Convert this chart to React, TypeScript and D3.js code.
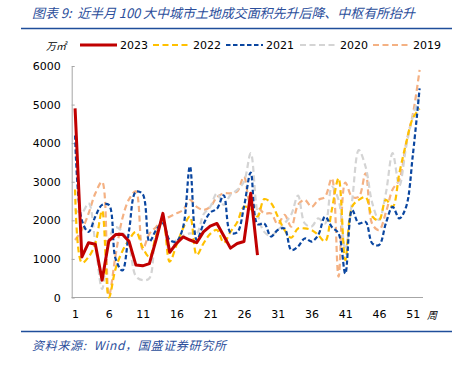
import { useEffect, useRef } from "react";
import * as d3 from "d3";

// weekly land transaction area, 万㎡, weeks 1..52
const weeks = d3.range(1, 53);
const tickWeeks = [1, 6, 11, 16, 21, 26, 31, 36, 41, 46, 51];
const yTicks = [0, 1000, 2000, 3000, 4000, 5000, 6000];

const v2023 = [
  4900, 1050, 1420, 1380, 450, 1470, 1630, 1640, 1450, 840, 820, 880, 1500, 2180,
  1170, 1400, 1570, 1490, 1420, 1700, 1850, 1920, 1600, 1280, 1400, 1450, 2700, 1100,
];
const v2022 = [
  2800, 900, 1050, 1400, 2250, 0, 750, 1200, 1500, 1700, 1300, 1050, 1600, 2000,
  930, 1350, 1800, 2100, 1100, 1400, 1650, 1750, 1420, 1700, 1950, 2350, 2300, 2100,
  2550, 2450, 2100, 1750, 1550, 1790, 1790, 1750, 1620, 1450, 2270, 3090, 970, 2350,
  2530, 2600, 2100, 2000, 2530, 2350, 3220, 4000, 4650, 4900,
];
const v2021 = [
  4200, 2000, 1700, 2100, 2400, 2400, 1000, 700, 1750, 2740, 2680, 1450, 1750, 1920,
  1490, 1450, 1830, 3400, 1490, 1900, 2200, 2300, 2650, 1680, 1690, 2350, 3240, 1900,
  1920, 1580, 1750, 1790, 1230, 1320, 1530, 1450, 1620, 2095, 1830, 1660, 620, 2270,
  1920, 1960, 1400, 1360, 1920, 2350, 2050, 2350, 3700, 5420,
];
const v2020 = [
  2270, 2200, 2440, 1400, 220, 1500, 1820, 1700, 1350, 550, 450, 500, 1700, 1960,
  1150, 1490, 1600, 1660, 1660, 2150, 2350, 2700, 2400, 2660, 2790, 3000, 3740, 2200,
  1700, 1600, 1750, 1920, 2150, 2640, 1920, 1840, 2050, 1920, 2870, 2530, 1250, 2500,
  3820, 3390, 2440, 2010, 2700, 3740, 2900, 3900, 4700, 5250,
];
const v2019 = [
  1490, 1750, 2180, 2700, 3000, 50, 1100, 2050, 2550, 2750, 1250, 1650, 1830, 2010,
  2095, 2180, 2270, 2530, 2350, 2270, 2350, 2600, 2700, 2700, 2750, 3130, 2400, 2350,
  2180, 2180, 1900, 2140, 1835, 2400, 2530, 2350, 2530, 2610, 3090, 540, 2980, 2610,
  2610, 3220, 1900, 1750, 2200, 2800, 3050, 4000, 4750, 5900,
];

interface Series {
  name: string;
  values: number[];
  color: string;
  width: number;
  dash: string | null;
  smooth: boolean;
}

const series: Series[] = [
  { name: "2023", values: v2023, color: "#C00000", width: 3, dash: null, smooth: false },
  { name: "2022", values: v2022, color: "#FFC000", width: 2.2, dash: "6,3.5", smooth: true },
  { name: "2021", values: v2021, color: "#0A46A0", width: 2.2, dash: "4.5,2.5", smooth: true },
  { name: "2020", values: v2020, color: "#D4D4D4", width: 2.2, dash: "6,3.5", smooth: true },
  { name: "2019", values: v2019, color: "#F4B183", width: 2.2, dash: "6,3.5", smooth: true },
];
// drawing order, last on top
const drawOrder = ["2019", "2020", "2022", "2021", "2023"];

const W = 461;
const H = 370;
const FONT = "'DejaVu Sans', Verdana, sans-serif";
const CJK = "'Noto Sans CJK SC', sans-serif";
const BLUE = "#2B4E9B";

export default function App() {
  const svgRef = useRef<SVGSVGElement>(null);

  useEffect(() => {
    if (!svgRef.current) return;
    const svg = d3.select(svgRef.current);
    svg.selectAll("*").remove();

    const left = 71.7;
    const right = 423;
    const top = 66;
    const bottom = 297.5;

    const x = d3.scalePoint<number>().domain(weeks).range([left, right]).padding(0.5);
    const y = d3.scaleLinear().domain([0, 6000]).range([bottom, top]);

    svg.append("rect").attr("width", W).attr("height", H).attr("fill", "#fff");

    // title + rule
    svg
      .append("text")
      .attr("x", 32)
      .attr("y", 18)
      .attr("fill", BLUE)
      .attr("font-family", CJK)
      .attr("font-style", "italic")
      .attr("font-size", "13px")
      .attr("textLength", 383)
      .attr("lengthAdjust", "spacing")
      .style("white-space", "pre")
      .text("图表 9:  近半月 100 大中城市土地成交面积先升后降、中枢有所抬升");
    svg
      .append("line")
      .attr("x1", 21)
      .attr("x2", 452)
      .attr("y1", 28.5)
      .attr("y2", 28.5)
      .attr("stroke", "#1F4E9A")
      .attr("stroke-width", 1.5);

    // unit
    svg
      .append("text")
      .attr("x", 66)
      .attr("y", 50)
      .attr("text-anchor", "end")
      .attr("font-family", CJK)
      .attr("font-style", "italic")
      .attr("font-size", "10px")
      .attr("fill", "#000")
      .text("万㎡");

    // legend
    const legendX = [80, 153, 226, 300, 373];
    series.forEach((s, i) => {
      const g = svg.append("g").attr("transform", `translate(${legendX[i]},45)`);
      g.append("line")
        .attr("x1", 0)
        .attr("x2", 37)
        .attr("stroke", s.color)
        .attr("stroke-width", s.width)
        .attr("stroke-dasharray", s.dash);
      g.append("text")
        .attr("x", 40)
        .attr("y", 4)
        .attr("font-family", FONT)
        .attr("font-size", "11px")
        .attr("fill", "#000")
        .text(s.name);
    });

    // y axis
    svg
      .append("g")
      .attr("transform", `translate(${left},0)`)
      .call(
        d3
          .axisLeft(y)
          .tickValues(yTicks)
          .tickFormat(d3.format("d"))
          .tickSizeInner(-3)
          .tickSizeOuter(0)
          .tickPadding(11),
      )
      .call((g) => g.select(".domain").attr("stroke", "#A6A6A6"))
      .call((g) => g.selectAll(".tick line").attr("stroke", "#A6A6A6"))
      .call((g) =>
        g
          .selectAll(".tick text")
          .attr("font-family", FONT)
          .attr("font-size", "11px")
          .attr("fill", "#000"),
      );

    // x axis
    svg
      .append("g")
      .attr("transform", `translate(0,${bottom})`)
      .call(d3.axisBottom(x).tickValues(tickWeeks).tickSize(0).tickPadding(13))
      .call((g) =>
        g.select(".domain").attr("d", `M${left},0H${right}`).attr("stroke", "#A6A6A6"),
      )
      .call((g) =>
        g
          .selectAll(".tick text")
          .attr("font-family", FONT)
          .attr("font-size", "11px")
          .attr("fill", "#000"),
      );
    svg
      .append("text")
      .attr("x", 432)
      .attr("y", 319)
      .attr("text-anchor", "middle")
      .attr("font-family", CJK)
      .attr("font-style", "italic")
      .attr("font-size", "10px")
      .attr("fill", "#000")
      .text("周");

    // lines
    const plot = svg.append("g");
    drawOrder.forEach((name) => {
      const s = series.find((d) => d.name === name)!;
      const line = d3
        .line<number>()
        .x((_, i) => x(weeks[i])!)
        .y((d) => y(d))
        .curve(s.smooth ? d3.curveCatmullRom.alpha(0.5) : d3.curveLinear);
      plot
        .append("path")
        .attr("d", line(s.values))
        .attr("fill", "none")
        .attr("stroke", s.color)
        .attr("stroke-width", s.width)
        .attr("stroke-dasharray", s.dash)
        .attr("stroke-linejoin", "round");
    });

    // source
    svg
      .append("line")
      .attr("x1", 21)
      .attr("x2", 452)
      .attr("y1", 331.5)
      .attr("y2", 331.5)
      .attr("stroke", "#1F4E9A")
      .attr("stroke-width", 1.5);
    svg
      .append("text")
      .attr("x", 32)
      .attr("y", 350)
      .attr("fill", BLUE)
      .attr("font-family", CJK)
      .attr("font-style", "italic")
      .attr("font-size", "12px")
      .attr("textLength", 194)
      .attr("lengthAdjust", "spacing")
      .style("white-space", "pre")
      .text("资料来源:  Wind，国盛证券研究所");
  }, []);

  return (
    <svg
      ref={svgRef}
      width={W}
      height={H}
      style={{ position: "absolute", left: 0, top: 0 }}
    />
  );
}
